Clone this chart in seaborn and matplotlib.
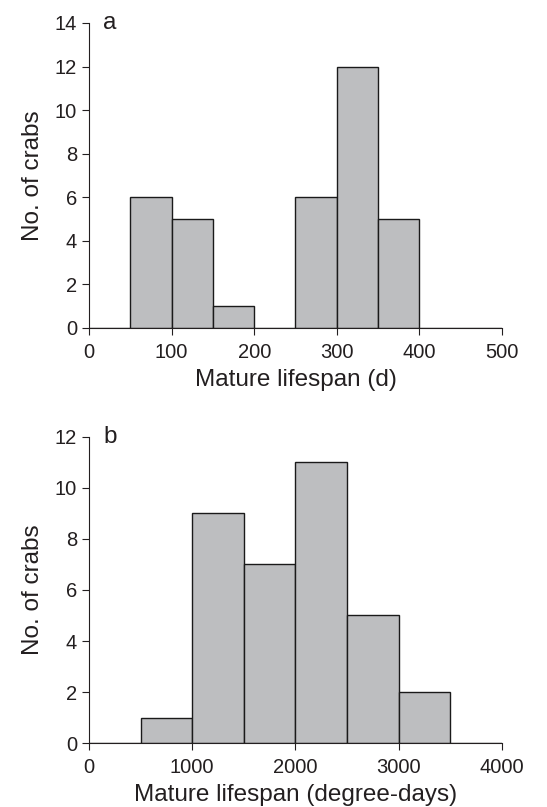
import numpy as np
import matplotlib.pyplot as plt
import seaborn as sns

# panel a: mature lifespan in days
edges_a = [0, 50, 100, 150, 200, 250, 300, 350, 400, 450, 500]
counts_a = [0, 6, 5, 1, 0, 6, 12, 5, 0, 0]

# panel b: mature lifespan in degree-days
edges_b = [0, 500, 1000, 1500, 2000, 2500, 3000, 3500, 4000]
counts_b = [0, 1, 9, 7, 11, 5, 2, 0]

sns.set_style('ticks')
plt.rcParams['font.family'] = ['Liberation Sans', 'DejaVu Sans']
ink = '#231f20'

fig = plt.figure(figsize=(5.47, 8.07), dpi=100)
ax_a = fig.add_axes([0.1627, 0.5936, 0.755, 0.3779])
ax_b = fig.add_axes([0.1627, 0.0793, 0.755, 0.3792])


def draw_panel(ax, edges, counts, ymax, xticks, xlabel, letter):
    centers = (np.array(edges[:-1]) + np.array(edges[1:])) / 2
    sns.histplot(x=centers, weights=counts, bins=edges, ax=ax,
                 color='#bdbec0', edgecolor='#1a1a1a', linewidth=1.0, alpha=1)
    ax.set_xlim(edges[0], edges[-1])
    ax.set_ylim(0, ymax)
    ax.set_yticks(np.arange(0, ymax + 1, 2))
    ax.set_xticks(xticks)
    ax.set_xlabel(xlabel, fontsize=17.5, color=ink, labelpad=5)
    ax.set_ylabel('No. of crabs', fontsize=17.5, color=ink, labelpad=8)
    ax.tick_params(labelsize=14.5, colors=ink, length=5, width=0.8)
    ax.tick_params(axis='x', pad=6)
    sns.despine(ax=ax)
    for s in ['left', 'bottom']:
        ax.spines[s].set_color(ink)
        ax.spines[s].set_linewidth(0.8)
    ax.text(0.035, 1.0, letter, transform=ax.transAxes, fontsize=17.5,
            color=ink, va='center', ha='left')


draw_panel(ax_a, edges_a, counts_a, 14, [0, 100, 200, 300, 400, 500],
           'Mature lifespan (d)', 'a')
draw_panel(ax_b, edges_b, counts_b, 12, [0, 1000, 2000, 3000, 4000],
           'Mature lifespan (degree-days)', 'b')

fig.savefig('out.png', dpi=100)
